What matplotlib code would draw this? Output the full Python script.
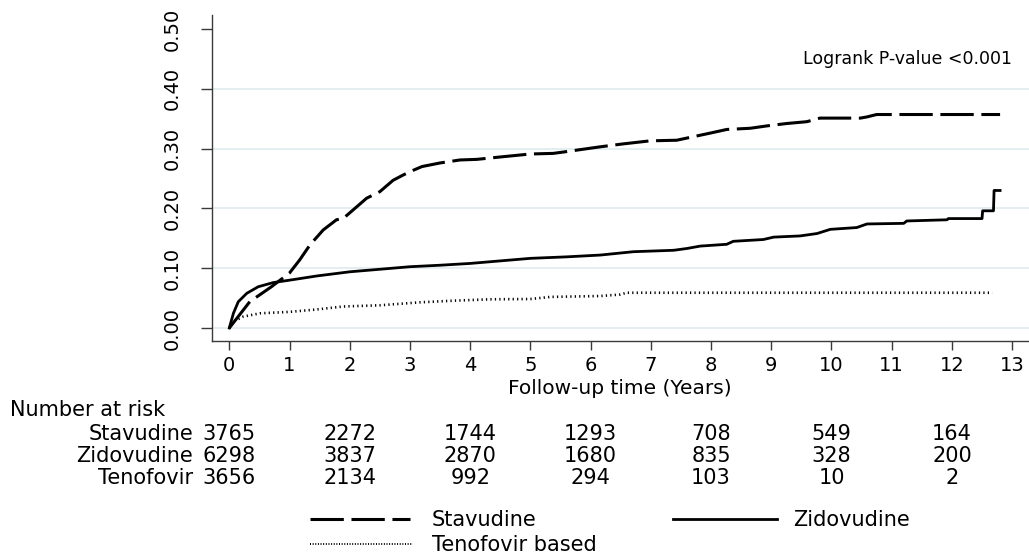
import matplotlib
matplotlib.use('Agg')
import matplotlib.pyplot as plt
from matplotlib.lines import Line2D
from matplotlib import transforms

plt.rcParams['font.family'] = ['DejaVu Sans']
plt.rcParams['lines.scale_dashes'] = False

W, H = 1029, 560

# ---------------- data ----------------
stav_t = [0.0, 0.34, 0.70, 1.00, 1.17, 1.34, 1.56, 1.78, 1.89, 2.12, 2.28, 2.50, 2.72,
          2.89, 3.06, 3.20, 3.50, 3.83, 4.11, 4.50, 5.00, 5.38, 5.60, 5.88, 6.16, 6.55,
          6.99, 7.43, 7.71, 7.99, 8.26, 8.65, 8.93, 9.26, 9.59, 9.81, 10.48, 10.59,
          10.75, 12.80]
stav_v = [0.0, 0.044, 0.069, 0.092, 0.114, 0.139, 0.164, 0.181, 0.183, 0.203, 0.217,
          0.228, 0.247, 0.256, 0.264, 0.270, 0.276, 0.281, 0.282, 0.286, 0.291, 0.292,
          0.295, 0.299, 0.303, 0.308, 0.313, 0.314, 0.320, 0.326, 0.332, 0.334, 0.338,
          0.342, 0.345, 0.351, 0.351, 0.353, 0.357, 0.357]

zido_t = [0.0, 0.07, 0.15, 0.29, 0.48, 0.73, 1.00, 1.45, 2.00, 3.00, 3.50, 4.00, 5.00,
          5.60, 6.16, 6.71, 7.38, 7.60, 7.82, 8.26, 8.37, 8.87, 9.04, 9.48, 9.76, 9.98,
          10.42, 10.59, 11.20, 11.25, 11.92, 11.94, 12.50, 12.51, 12.69, 12.70, 12.80]
zido_v = [0.0, 0.025, 0.044, 0.058, 0.069, 0.076, 0.080, 0.087, 0.094, 0.1025, 0.105,
          0.108, 0.1165, 0.119, 0.122, 0.1276, 0.130, 0.133, 0.137, 0.140, 0.145, 0.148,
          0.152, 0.154, 0.158, 0.165, 0.168, 0.174, 0.175, 0.179, 0.181, 0.183, 0.183,
          0.196, 0.196, 0.230, 0.230]

teno_t = [0.0, 0.07, 0.23, 0.51, 1.00, 1.45, 1.89, 2.50, 3.17, 3.72, 4.33, 5.00, 5.33,
          6.16, 6.49, 6.60, 12.67]
teno_v = [0.0, 0.011, 0.019, 0.0246, 0.027, 0.031, 0.036, 0.038, 0.043, 0.0457, 0.048,
          0.0485, 0.052, 0.0535, 0.056, 0.059, 0.059]

series_labels = ['Stavudine', 'Zidovudine', 'Tenofovir based']

risk_times = [0, 2, 4, 6, 8, 10, 12]
risk_groups = ['Stavudine', 'Zidovudine', 'Tenofovir']
risk_stav = [3765, 2272, 1744, 1293, 708, 549, 164]
risk_zido = [6298, 3837, 2870, 1680, 835, 328, 200]
risk_teno = [3656, 2134, 992, 294, 103, 10, 2]

x_ticks = list(range(0, 14))
y_ticks = [0.0, 0.1, 0.2, 0.3, 0.4, 0.5]
y_tick_labels = ['0.00', '0.10', '0.20', '0.30', '0.40', '0.50']

annot_text = 'Logrank P-value <0.001'
x_title = 'Follow-up time (Years)'
risk_title = 'Number at risk'

# ---------------- styles ----------------
styles = [
    dict(color='black', lw=2.2, dashes=(24, 5.5), dash_capstyle='butt'),
    dict(color='black', lw=2.0, linestyle='-'),
    dict(color='black', lw=1.9, dashes=(0.9, 2.3), dash_capstyle='butt'),
]
spine_col = '#3a3a3a'
grid_col = '#E4EEF1'

fig = plt.figure(figsize=(W / 100, H / 100), dpi=100)
ax = fig.add_axes([212 / W, 1 - 341 / H, (W - 212) / W, (341 - 15) / H])

ax.set_xlim(-0.287, 13.28)
ax.set_ylim(-0.0217, 0.5234)

for tt, vv, st in zip([stav_t, zido_t, teno_t], [stav_v, zido_v, teno_v], styles):
    ax.plot(tt, vv, zorder=3, **st)

ax.set_xticks(x_ticks)
ax.set_xticklabels([str(t) for t in x_ticks])
ax.set_yticks(y_ticks)
ax.set_yticklabels(y_tick_labels)

for s in ['top', 'right']:
    ax.spines[s].set_visible(False)
for s in ['left', 'bottom']:
    ax.spines[s].set_color(spine_col)
    ax.spines[s].set_linewidth(1.0)

ax.tick_params(axis='x', length=6.5, width=1.0, color=spine_col, labelsize=14, pad=4)
ax.tick_params(axis='y', length=8, width=1.0, color=spine_col, labelsize=14, pad=14,
               labelrotation=90)
for lab in ax.get_yticklabels():
    lab.set_va('center')

ax.grid(axis='y', color=grid_col, lw=1.4, zorder=0)
ax.set_axisbelow(True)
ax.yaxis.get_gridlines()[-1].set_visible(False)

ax.text(13, 0.45, annot_text, ha='right', va='center', fontsize=12.5)

fig.text(620 / W, 1 - 388 / H, x_title, ha='center', va='center', fontsize=14.5)

# ---------------- risk table ----------------
blend = transforms.blended_transform_factory(ax.transData, fig.transFigure)
fig.text(10 / W, 1 - 410 / H, risk_title, ha='left', va='center', fontsize=15)
row_y = [434, 456, 478]
for grp, counts, yy in zip(risk_groups, [risk_stav, risk_zido, risk_teno], row_y):
    first = None
    for t, c in zip(risk_times, counts):
        txt = ax.text(t, 1 - yy / H, str(c), transform=blend, ha='center', va='center',
                      fontsize=15, clip_on=False)
        if first is None:
            first = txt
    ax.annotate(grp, xy=(0, 0.5), xycoords=first, xytext=(-7, 0),
                textcoords='offset points', ha='right', va='center', fontsize=15,
                annotation_clip=False)

# ---------------- legend ----------------
leg_pos = [(310, 410, 519, 432), (673, 777, 519, 793), (310, 413, 544, 432)]
leg_styles = [styles[0], styles[1],
              dict(color='black', lw=1.4, dashes=(0.7, 1.2), dash_capstyle='butt')]
for lab, (x0, x1, yy, xt), st in zip(series_labels, leg_pos, leg_styles):
    ln = Line2D([x0 / W, x1 / W], [1 - yy / H, 1 - yy / H], transform=fig.transFigure, **st)
    fig.add_artist(ln)
    fig.text(xt / W, 1 - (yy + 1) / H, lab, ha='left', va='center', fontsize=15)

fig.savefig('out.png', dpi=100)
